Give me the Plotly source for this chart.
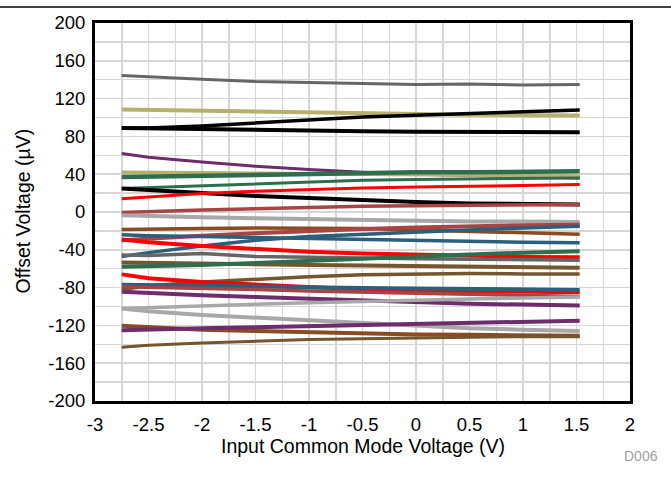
import plotly.graph_objects as go

# Input common mode voltage sample points (V)
vcm = [-2.75, -2.5, -2.0, -1.5, -1.0, -0.5, 0.0, 0.5, 1.0, 1.53]

# Axis tick values and labels
x_ticks = [-3, -2.5, -2, -1.5, -1, -0.5, 0, 0.5, 1, 1.5, 2]
x_labels = ["-3", "-2.5", "-2", "-1.5", "-1", "-0.5", "0", "0.5", "1", "1.5", "2"]
y_ticks = [-200, -160, -120, -80, -40, 0, 40, 80, 120, 160, 200]
y_labels = ["-200", "-160", "-120", "-80", "-40", "0", "40", "80", "120", "160", "200"]

# Offset voltage curves (uV), one per unit
gray_a    = [144.5, 143, 140.5, 138, 137, 136, 135, 135.5, 134.5, 135]
khaki_a   = [108.5, 108, 107.5, 106.5, 105.5, 104.5, 103.5, 103, 102.5, 102]
black_a   = [88.5, 89, 91, 94, 97.5, 100.5, 102.5, 104, 106, 108]
black_b   = [89, 88.5, 88, 87, 86, 85.5, 85, 84.5, 85, 84.5]
purple_a  = [62, 58, 53, 48.5, 45, 42, 40, 38.5, 37, 36]
khaki_b   = [42, 42, 41.5, 41, 40.5, 40, 39.5, 39, 38.5, 38]
green_a   = [37, 37.5, 38.5, 39.5, 40.5, 41, 42, 42, 42.5, 43]
green_b   = [25, 26, 28, 30, 32, 33.5, 34.5, 35, 35.5, 36]
black_c   = [25, 23, 20, 17, 14.5, 12.5, 10.5, 9, 8.5, 8]
red_a     = [14, 16, 19.5, 22, 24, 25.5, 26.5, 27, 28, 29]
maroon_a  = [-0.5, 0.5, 2, 3.5, 5, 6, 6.5, 7, 7.5, 8]
lgray_a   = [-3.5, -4.5, -5.5, -6.5, -7.5, -8.5, -9.5, -10, -10, -10.5]
sienna_a  = [-18.5, -18, -17.5, -17, -17, -17.5, -19, -20.5, -22, -23.5]
maroon_b  = [-30, -28, -25, -22.5, -20, -18, -16.5, -15, -14, -13.5]
teal_a    = [-24, -25, -26, -27, -28.5, -29.5, -30.5, -31.5, -32, -32.5]
teal_b    = [-47, -43, -36, -30, -26, -23.5, -21, -19, -17, -15]
red_b     = [-29, -32, -36, -39.5, -42, -44, -45.5, -46.5, -47.5, -48]
gray_b    = [-45.5, -46, -44, -47, -48, -49, -49.5, -50, -50.5, -51]
brown_a   = [-53.5, -54, -54.5, -55.5, -56, -56.5, -57, -58, -58.5, -59]
green_c   = [-58, -57.5, -56, -54, -51.5, -49.5, -47, -45, -43, -41.5]
brown_b   = [-82, -78, -74, -71, -68.5, -66.5, -65.5, -65, -65.5, -65.5]
red_c     = [-66, -70, -74, -77, -79.5, -82, -83, -83.5, -84, -85]
teal_c    = [-77, -77.5, -78.5, -79.5, -80, -80.5, -81, -81.5, -82, -82.5]
maroon_c  = [-79, -79.5, -80.5, -82, -83.5, -85, -86, -87, -88, -89.5]
purple_b  = [-84.5, -86, -88, -90, -92, -94, -95.5, -97, -98, -99]
lgray_b   = [-102, -105, -109, -112, -115, -118, -121, -123, -124.5, -126]
lgray_c   = [-102, -101, -99.5, -97.5, -96, -94.5, -93, -92, -91, -90]
sienna_b  = [-120.5, -122, -124.5, -126, -127.5, -128.5, -129.5, -130, -130.5, -131]
purple_c  = [-125, -124, -123, -122, -121, -120, -119, -117.5, -116, -115]
brown_c   = [-143, -141, -138.5, -136.5, -135, -134, -133, -132.5, -132, -132]

GRAY = "#666666"
KHAKI = "#b5b06c"
BLACK = "#000000"
PURPLE = "#6e2c6c"
GREEN = "#2e6e4e"
RED = "#ff0000"
MAROON = "#a84444"
LGRAY = "#a8a8a8"
SIENNA = "#8a4b22"
TEAL = "#2b5f7c"
BROWN = "#75552b"

series = [
    (gray_a, GRAY, 3), (khaki_a, KHAKI, 4), (black_a, BLACK, 3.5), (black_b, BLACK, 4),
    (purple_a, PURPLE, 3), (khaki_b, KHAKI, 3.5), (green_a, GREEN, 4.5), (green_b, GREEN, 3),
    (black_c, BLACK, 4), (red_a, RED, 3), (maroon_a, MAROON, 3.5), (lgray_a, LGRAY, 4),
    (sienna_a, SIENNA, 3.5), (maroon_b, MAROON, 4), (teal_a, TEAL, 3.5), (teal_b, TEAL, 3.5),
    (red_b, RED, 4), (gray_b, GRAY, 3.5), (brown_a, BROWN, 4), (green_c, GREEN, 4),
    (brown_b, BROWN, 3.5), (red_c, RED, 4), (teal_c, TEAL, 4), (maroon_c, MAROON, 3.5),
    (purple_b, PURPLE, 4), (lgray_b, LGRAY, 4), (lgray_c, LGRAY, 3.5), (sienna_b, SIENNA, 4),
    (purple_c, PURPLE, 4), (brown_c, BROWN, 3),
]

fig = go.Figure()
for ys, col, w in series:
    fig.add_trace(go.Scatter(x=vcm, y=ys, mode="lines",
                             line=dict(color=col, width=w), showlegend=False,
                             hoverinfo="skip"))

FONT = "Liberation Sans, Arial, sans-serif"
GRID = "#d6d6d6"

L, R, T, B = 95, 41, 23, 92
W, H = 671, 493
pw = W - L - R
ph = H - T - B


def px_x(p):
    return (p - L) / pw


def px_y(p):
    return 1 - (p - T) / ph


fig.update_layout(
    width=W, height=H,
    margin=dict(l=L, r=R, t=T, b=B, autoexpand=False),
    paper_bgcolor="white", plot_bgcolor="white",
    font=dict(family=FONT, size=18.5, color="black"),
    showlegend=False,
    hovermode=False,
)
fig.update_xaxes(
    range=[-3, 2], tickmode="array", tickvals=x_ticks, ticktext=x_labels,
    showgrid=True, gridcolor=GRID, gridwidth=1.5,
    minor=dict(tickmode="linear", tick0=-3, dtick=0.25, showgrid=True,
               gridcolor=GRID, gridwidth=1.5),
    showline=True, linecolor="black", linewidth=3, mirror=True,
    zeroline=False, ticks="", ticklabelstandoff=5, automargin=False,
)
fig.update_yaxes(
    range=[-200, 200], tickmode="array", tickvals=y_ticks, ticktext=y_labels,
    showgrid=True, gridcolor=GRID, gridwidth=1.5,
    minor=dict(tickmode="linear", tick0=-200, dtick=20, showgrid=True,
               gridcolor=GRID, gridwidth=1.5),
    showline=True, linecolor="black", linewidth=3, mirror=True,
    zeroline=False, ticks="", ticklabelstandoff=3, automargin=False,
)

# top rule line across the page
fig.add_shape(type="line", xref="paper", yref="paper",
              x0=px_x(0), x1=px_x(W), y0=px_y(7), y1=px_y(7),
              line=dict(color="black", width=1.5))

# axis titles
fig.add_annotation(text="Input Common Mode Voltage (V)", xref="paper", yref="paper",
                   x=px_x(362.5), y=px_y(446), xanchor="center", yanchor="middle",
                   showarrow=False, font=dict(family=FONT, size=19.5, color="black"))
fig.add_annotation(text="Offset Voltage (µV)", xref="paper", yref="paper",
                   x=px_x(23), y=px_y(211.5), xanchor="center", yanchor="middle",
                   textangle=-90, showarrow=False,
                   font=dict(family=FONT, size=19.5, color="black"))

fig.add_annotation(text="D006", xref="paper", yref="paper",
                   x=px_x(660), y=px_y(456),
                   xanchor="right", yanchor="middle", showarrow=False,
                   font=dict(family=FONT, size=14, color="#a0a0a0"))

fig.write_html("out.html",
               config={"displayModeBar": False, "staticPlot": True},
               post_script="document.body.style.margin='0px';document.body.style.padding='0px';")
